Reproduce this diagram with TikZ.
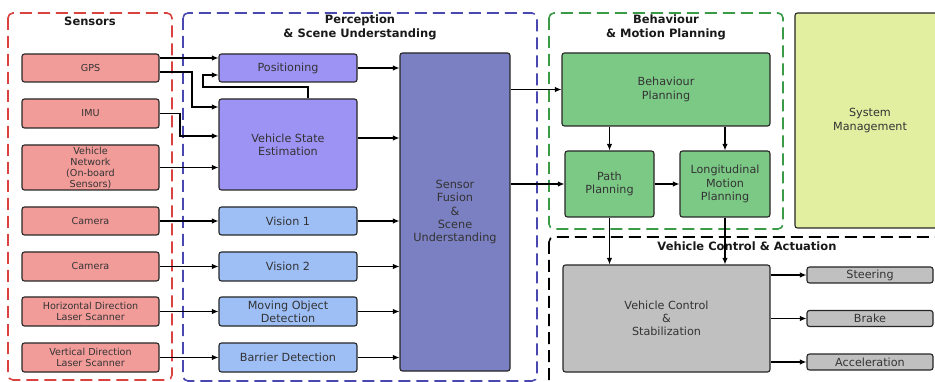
\documentclass[tikz,border=0pt]{standalone}
\usepackage{fontspec}
\setmainfont{DejaVu Sans}
\usetikzlibrary{arrows.meta}
\definecolor{sensorred}{HTML}{F29C9A}
\definecolor{poslilac}{HTML}{9D93F5}
\definecolor{visblue}{HTML}{9EBFF6}
\definecolor{fusionblue}{HTML}{7B80C2}
\definecolor{plangreen}{HTML}{7CC986}
\definecolor{ctrlgrey}{HTML}{C0C0C0}
\definecolor{sysyellow}{HTML}{E2EEA0}
\definecolor{framered}{HTML}{D9423F}
\definecolor{frameblue}{HTML}{4848B0}
\definecolor{framegreen}{HTML}{3A9A46}

\begin{document}
\begin{tikzpicture}[x=1pt, y=-1pt,
                    box/.style = {shape = rectangle,
                                  rounded corners = 2.5pt,
                                  draw = black!85,
                                  line width = 1.1pt,
                                  align = center,
                                  inner sep = 1pt,
                                  text = black!80,
                                  font = \fontsize{11.2}{13.3}\selectfont},
                    sensor/.style = {box, fill = sensorred,
                                     minimum width = 137pt,
                                     font = \fontsize{9.6}{11}\selectfont},
                    percep/.style = {box, minimum width = 138pt},
                    arr/.style = {-{Latex[length=6.5pt,width=5.5pt]}, line width = 1.2pt},
                    frame/.style = {dash pattern = on 12pt off 6pt,
                                    line width = 1.6pt,
                                    rounded corners = 5pt},
                    title/.style = {font = \bfseries\fontsize{11.5}{14}\selectfont,
                                    text = black!90,
                                    align = center}]
		\useasboundingbox (0,0) rectangle (935,382);
		% frames
		\draw[frame, framered] (8,13) rectangle (172,380);
		\draw[frame, frameblue] (183,13) rectangle (537,381);
		\draw[frame, framegreen] (549,13) rectangle (783,229);
		\draw[frame, black] (549,237) rectangle (960,400);
		\node[title] (tsens) at (90,21) {Sensors};
		\node[title] (tperc) at (360,27) {Perception\\\& Scene Understanding};
		\node[title] (tbeh) at (666,27) {Behaviour\\\& Motion Planning};
		\node[title, fill=white, inner sep=1pt] (tctrl) at (747,246) {Vehicle Control \& Actuation};
		% sensors
		\node[sensor, minimum height = 28pt] (gps) at (90.5,68) {GPS};
		\node[sensor, minimum height = 29pt] (imu) at (90.5,113.5) {IMU};
		\node[sensor, minimum height = 45pt] (vnet) at (90.5,167.5) {Vehicle\\Network\\(On-board\\Sensors)};
		\node[sensor, minimum height = 28pt] (cam1) at (90.5,221) {Camera};
		\node[sensor, minimum height = 29pt] (cam2) at (90.5,266.5) {Camera};
		\node[sensor, minimum height = 29pt] (hscan) at (90.5,311.5) {Horizontal Direction\\Laser Scanner};
		\node[sensor, minimum height = 29pt] (vscan) at (90.5,357.5) {Vertical Direction\\Laser Scanner};
		% perception
		\node[percep, fill = poslilac, minimum height = 28pt] (pos) at (288,68) {Positioning};
		\node[percep, fill = poslilac, minimum height = 91pt] (vse) at (288,144.5) {Vehicle State\\Estimation};
		\node[percep, fill = visblue, minimum height = 28pt] (vis1) at (288,221) {Vision 1};
		\node[percep, fill = visblue, minimum height = 29pt] (vis2) at (288,266.5) {Vision 2};
		\node[percep, fill = visblue, minimum height = 29pt] (mod) at (288,311.5) {Moving Object\\Detection};
		\node[percep, fill = visblue, minimum height = 29pt] (bar) at (288,357.5) {Barrier Detection};
		\node[box, fill = fusionblue, minimum width = 110pt, minimum height = 318pt,
		      font = \fontsize{11.3}{13.2}\selectfont] (fus) at (455,212)
		      {Sensor\\Fusion\\\&\\Scene\\Understanding};
		% planning
		\node[box, fill = plangreen, minimum width = 208pt, minimum height = 73pt] (beh) at (666,89.5) {Behaviour\\Planning};
		\node[box, fill = plangreen, minimum width = 89pt, minimum height = 66pt] (path) at (609.5,184) {Path\\Planning};
		\node[box, fill = plangreen, minimum width = 90pt, minimum height = 66pt] (lon) at (725,184) {Longitudinal\\Motion\\Planning};
		\node[box, fill = sysyellow, minimum width = 150pt, minimum height = 215pt] (sys) at (870,120.5) {System\\Management};
		% control
		\node[box, fill = ctrlgrey, minimum width = 207pt, minimum height = 107pt] (vc) at (666.5,318.5) {Vehicle Control\\\&\\Stabilization};
		\node[box, fill = ctrlgrey, minimum width = 126pt, minimum height = 16pt] (steer) at (870,275) {Steering};
		\node[box, fill = ctrlgrey, minimum width = 126pt, minimum height = 16pt] (brake) at (870,318.5) {Brake};
		\node[box, fill = ctrlgrey, minimum width = 126pt, minimum height = 16pt] (accel) at (870,362) {Acceleration};
		% connectors
		\draw[arr] ([yshift=10pt]gps.east) -- ([yshift=10pt]pos.west);
		\draw[arr] ([yshift=-4pt]gps.east) -| (192,107) -- ([yshift=37.5pt]vse.west);
		\draw[arr] ([xshift=20pt]vse.north) -- (308,87) -| (203,75) -- ([yshift=-7pt]pos.west);
		\draw[arr] (imu.east) -| (180,136) -- ([yshift=8.5pt]vse.west);
		\draw[arr] (vnet.east) -- (vnet.east -| vse.west);
		\draw[arr] (cam1) -- (vis1);
		\draw[arr] (cam2) -- (vis2);
		\draw[arr] (hscan) -- (mod);
		\draw[arr] (vscan) -- (bar);
		\draw[arr] (pos.east) -- (pos.east -| fus.west);
		\draw[arr] ([yshift=6.5pt]vse.east) -- ([yshift=6.5pt]vse.east -| fus.west);
		\draw[arr] (vis1.east) -- (vis1.east -| fus.west);
		\draw[arr] (vis2.east) -- (vis2.east -| fus.west);
		\draw[arr] (mod.east) -- (mod.east -| fus.west);
		\draw[arr] (bar.east) -- (bar.east -| fus.west);
		\draw[arr] (fus.east |- beh.west) -- (beh.west);
		\draw[arr] (fus.east |- path.west) -- (path.west);
		\draw[arr] (path.north |- beh.south) -- (path.north);
		\draw[arr] (lon.north |- beh.south) -- (lon.north);
		\draw[arr] (path) -- (lon);
		\draw[arr] (path.south) -- (path.south |- vc.north);
		\draw[arr] (lon.south) -- (lon.south |- vc.north);
		\draw[arr] (vc.east |- steer.west) -- (steer.west);
		\draw[arr] (vc.east |- brake.west) -- (brake.west);
		\draw[arr] (vc.east |- accel.west) -- (accel.west);
	\end{tikzpicture}
\end{document}
